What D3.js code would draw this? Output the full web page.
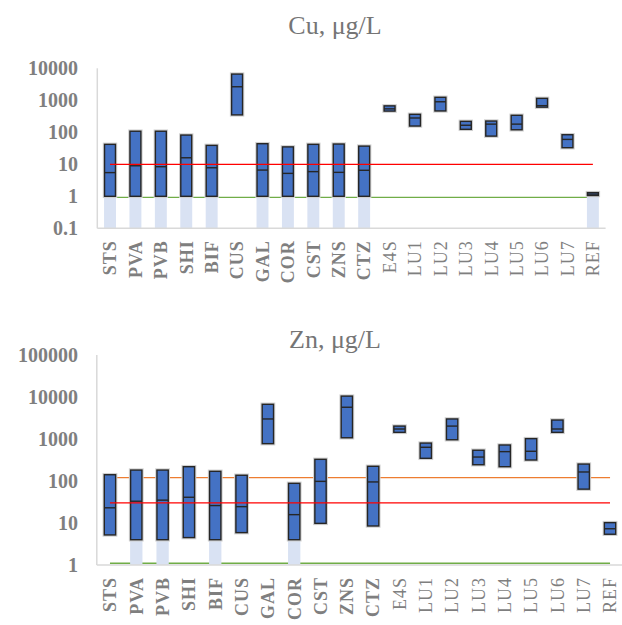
<!DOCTYPE html>
<html>
<head>
<meta charset="utf-8">
<script src="https://cdn.jsdelivr.net/npm/d3@7"></script>
<style>
  body { margin: 0; background: #fff; }
  svg text { font-family: "Liberation Serif", "Times New Roman", serif; }
</style>
</head>
<body>
<div class="charts"></div>
<script>
// Sites (first 11 labels are printed bold)
const sites = ["STS", "PVA", "PVB", "SHI", "BIF", "CUS", "GAL", "COR", "CST", "ZNS", "CTZ",
    "E4S", "LU1", "LU2", "LU3", "LU4", "LU5", "LU6", "LU7", "REF"]
const boldSites = ["STS", "PVA", "PVB", "SHI", "BIF", "CUS", "GAL", "COR", "CST", "ZNS", "CTZ"]

// Cu, ug/L
const cuMin = [1, 1, 1, 1, 1, 350, 1, 1, 1, 1, 1, 460, 157, 465, 124, 76, 120, 610, 33, 1.06]
const cuMed = [5.5, 9, 8.4, 16, 7.8, 2650, 6.6, 5.2, 5.9, 5.6, 6.5, 540, 280, 900, 166, 180, 180, 680, 60, 1.17]
const cuMax = [42, 108, 108, 82, 39, 6600, 44, 35, 42, 43, 37, 670, 365, 1240, 220, 225, 340, 1150, 84, 1.3]
// light bars under the boxes (sites at the detection limit)
const cuBase = [1, 1, 1, 1, 1, null, 1, 1, 1, 1, 1, null, null, null, null, null, null, null, null, 1.06]
const cuTicks = [0.1, 1, 10, 100, 1000, 10000]

// Zn, ug/L
const znMin = [5.2, 4, 4, 4.5, 4, 5.9, 775, 4, 9.8, 1070, 8.5, 1440, 347, 960, 244, 219, 316, 1440, 64, 5.4]
const znMed = [23, 33, 35, 41, 26, 24.5, 3000, 15.8, 98, 5700, 95, 1730, 635, 2030, 372, 500, 510, 1730, 164, 7.3]
const znMax = [141, 182, 182, 219, 170, 137, 6700, 88, 328, 10500, 224, 2030, 800, 3000, 540, 720, 1020, 2830, 253, 10.2]
const znBase = [null, 4, 4, null, 4, null, null, 4, null, null, null, null, null, null, null, null, null, null, null, null]
const znTicks = [1, 10, 100, 1000, 10000, 100000]

// guideline values
const cuRed = 10, cuGreen = 0.93
const znRed = 30, znOrange = 120, znGreen = 1.1

const svg = d3.select('.charts')
    .append('svg')
    .attr('width', 622)
    .attr('height', 625)

function drawPanel(opt) {
    const g = svg.append('g')

    const x = d3.scaleBand()
        .domain(sites)
        .range(opt.xRange)
    const y = d3.scaleLog()
        .domain(opt.yDomain)
        .range(opt.yRange)

    const barW = x.bandwidth() * 0.43
    const cx = d => x(d) + x.bandwidth() / 2

    // title
    g.append('text')
        .attr('x', 335)
        .attr('y', opt.titleY)
        .attr('text-anchor', 'middle')
        .attr('fill', '#757575')
        .style('font-size', '26px')
        .text(opt.title)

    // axis lines
    g.append('line')
        .attr('x1', opt.xRange[0]).attr('x2', opt.xRange[0])
        .attr('y1', opt.yRange[1]).attr('y2', opt.yRange[0])
        .attr('stroke', '#d9d9d9').attr('stroke-width', 1.5)

    // y tick labels
    g.selectAll('.ytick')
        .data(opt.ticks)
        .enter()
        .append('text')
        .attr('class', 'ytick')
        .attr('x', 78)
        .attr('y', d => y(d))
        .attr('dy', '0.35em')
        .attr('text-anchor', 'end')
        .attr('fill', '#7f7f7f')
        .style('font-size', '20px')
        .style('font-weight', 'bold')
        .text(d => d)

    const lineX1 = cx(sites[0]), lineX2 = cx(sites[sites.length - 1])

    // lines drawn behind the boxes
    opt.backLines.forEach(function (l) {
        g.append('line')
            .attr('x1', lineX1).attr('x2', lineX2)
            .attr('y1', y(l.v)).attr('y2', y(l.v))
            .attr('stroke', l.c).attr('stroke-width', 1.3)
    })

    // light base bars
    g.selectAll('.base')
        .data(sites.map((s, i) => ({ s: s, v: opt.base[i] })).filter(d => d.v != null))
        .enter()
        .append('rect')
        .attr('x', d => cx(d.s) - barW / 2 - 0.5)
        .attr('width', barW + 1)
        .attr('y', d => y(d.v))
        .attr('height', d => opt.yRange[0] - y(d.v))
        .attr('fill', '#d9e2f3')

    const rows = sites.map((s, i) => ({ s: s, lo: opt.min[i], md: opt.med[i], hi: opt.max[i] }))

    // soft halo
    g.selectAll('.halo')
        .data(rows)
        .enter()
        .append('rect')
        .attr('x', d => cx(d.s) - barW / 2)
        .attr('width', barW)
        .attr('y', d => y(d.hi))
        .attr('height', d => y(d.lo) - y(d.hi))
        .attr('fill', 'none')
        .attr('stroke', '#d0d0d0')
        .attr('stroke-width', 3.5)

    g.selectAll('.box')
        .data(rows)
        .enter()
        .append('rect')
        .attr('x', d => cx(d.s) - barW / 2)
        .attr('width', barW)
        .attr('y', d => y(d.hi))
        .attr('height', d => y(d.lo) - y(d.hi))
        .attr('fill', '#4472c4')
        .attr('stroke', '#262626')
        .attr('stroke-width', 1.4)

    g.selectAll('.med')
        .data(rows)
        .enter()
        .append('line')
        .attr('x1', d => cx(d.s) - barW / 2)
        .attr('x2', d => cx(d.s) + barW / 2)
        .attr('y1', d => y(d.md))
        .attr('y2', d => y(d.md))
        .attr('stroke', '#262626')
        .attr('stroke-width', 1.4)

    // lines drawn over the boxes
    opt.frontLines.forEach(function (l) {
        g.append('line')
            .attr('x1', lineX1).attr('x2', lineX2)
            .attr('y1', y(l.v)).attr('y2', y(l.v))
            .attr('stroke', l.c).attr('stroke-width', 1.3)
    })

    // bottom axis line
    g.append('line')
        .attr('x1', opt.xRange[0]).attr('x2', opt.xRange[1])
        .attr('y1', opt.yRange[0]).attr('y2', opt.yRange[0])
        .attr('stroke', '#d9d9d9').attr('stroke-width', 1.5)

    // x labels, rotated
    g.selectAll('.xlab')
        .data(sites)
        .enter()
        .append('text')
        .attr('class', 'xlab')
        .attr('transform', d => 'translate(' + cx(d) + ',' + (opt.yRange[0] + 12) + ') rotate(-90)')
        .attr('dy', '0.35em')
        .attr('text-anchor', 'end')
        .attr('fill', '#7f7f7f')
        .style('font-size', '18px')
        .style('letter-spacing', '1px')
        .style('font-weight', d => boldSites.includes(d) ? 'bold' : 'normal')
        .text(d => d)
}

drawPanel({
    title: 'Cu, \u03bcg/L', titleY: 34,
    min: cuMin, med: cuMed, max: cuMax, base: cuBase, ticks: cuTicks,
    xRange: [97.3, 605.6], yDomain: [0.1, 10000], yRange: [228.3, 68.3],
    backLines: [{ v: cuGreen, c: '#70ad47' }],
    frontLines: [{ v: cuRed, c: '#ff0000' }]
})

drawPanel({
    title: 'Zn, \u03bcg/L', titleY: 348,
    min: znMin, med: znMed, max: znMax, base: znBase, ticks: znTicks,
    xRange: [96.8, 623.2], yDomain: [1, 100000], yRange: [565, 355],
    backLines: [{ v: znGreen, c: '#70ad47' }, { v: znOrange, c: '#ed7d31' }],
    frontLines: [{ v: znRed, c: '#ff0000' }]
})
</script>
</body>
</html>
